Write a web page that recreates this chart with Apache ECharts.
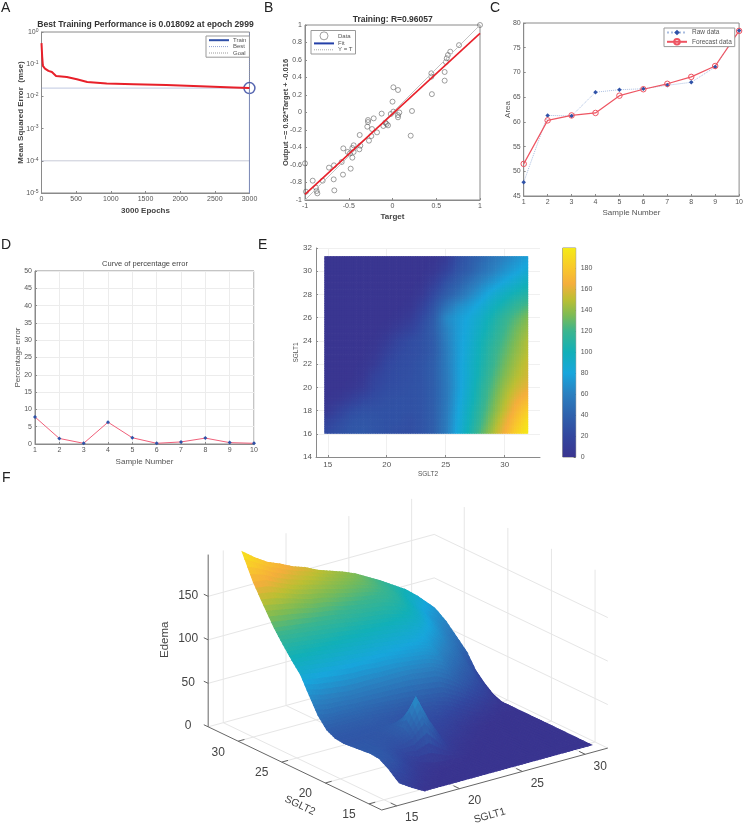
<!DOCTYPE html>
<html><head><meta charset="utf-8">
<style>html,body{margin:0;padding:0;background:#fff}#c{width:746px;height:825px}</style>
<script src="https://cdn.jsdelivr.net/npm/echarts@6/dist/echarts.min.js"></script>
</head><body><div id="c"></div>
<script>
// ---- Panel A
const trainEpochs=[0,5,10,20,50,100,150,210,365,510,660,940,1330,1800,2290,2770,2999];
const trainMse=[0.45,0.43,0.17,0.089,0.073,0.062,0.057,0.043,0.04,0.034,0.028,0.025,0.024,0.0225,0.0208,0.0189,0.018092];
const bestEpoch=2999, bestMse=0.018092, goalMse=0.0001;
// ---- Panel B
const targetVals=[1,.76,.66,.634,.62,.61,.596,.596,.444,.444,.45,.01,.063,0,.01,-.02,.078,.063,.063,.223,.208,-.124,-.215,-.28,-.28,-.288,-.234,-.177,-.105,-.082,-.067,-.051,-.242,-.269,-.375,-.368,-.379,-.444,-.459,-.444,-.562,-.512,-.486,-.459,-.581,-.669,-.726,-.478,-.566,-.672,-.665,-.798,-.912,-1,-.989,-.874,-.867,-.859];
const outputVals=[1,.77,.695,.657,.62,.577,.463,.364,.448,.41,.21,.288,.257,.124,.01,-.017,0,-.03,-.055,.017,-.265,-.013,-.067,-.086,-.109,-.162,-.189,-.227,-.154,-.116,-.131,-.147,-.269,-.322,-.257,-.379,-.421,-.375,-.406,-.451,-.41,-.451,-.467,-.516,-.566,-.604,-.63,-.642,-.71,-.764,-.89,-.779,-.779,-.581,-.905,-.859,-.897,-.924];
const fitEnds=[[-1,-.936],[1,.904]];
const identityEnds=[[-1,-1],[1,1]];
// ---- Panels C, D
const sampleNumbers=[1,2,3,4,5,6,7,8,9,10];
const rawData=[47.8,61.3,61.2,66,66.5,66.7,67.4,68,71.1,78.5];
const forecastData=[51.5,60.3,61.3,61.8,65.3,66.6,67.7,69.1,71.3,78.4];
const percentError=[7.8,1.6,0.2,6.3,1.8,0.2,0.6,1.7,0.4,0.2];
// ---- Panels E, F
const sglt2=[14.7,16,17,18,19,20,21,22,23,24,25,26,27,28,29,30,31,32];
const surfaceSglt2=[14.7,16,17,18,19,20,21,22,23,24,25,26,27,28,29,30.2,31.4,32.7];
const sglt1=[16,17,18,19,20,21,22,23,24,25,26,27,28,29,30,31.3];
const heatRows=[
[22,28,32,33,30,28,26,26,30,38,56,82,104,126,146,166,186,199],
[16,24,30,32,30,28,28,26,30,38,56,80,100,120,140,160,178,194],
[3,16,24,28,28,28,28,28,30,38,55,78,98,116,134,152,170,184],
[1,5,12,20,24,27,28,28,30,38,54,76,94,112,130,147,162,172],
[1,1,3,8,20,24,26,28,30,38,54,74,92,110,126,142,154,162],
[1,1,1,4,16,22,25,27,30,38,55,74,90,106,122,136,148,156],
[1,1,1,2,8,20,24,26,30,38,56,74,90,104,118,132,144,154],
[1,1,1,1,4,14,22,25,28,36,56,74,88,102,116,128,140,150],
[1,1,1,1,2,8,18,24,28,36,58,74,86,100,112,124,136,148],
[1,1,1,1,1,3,9,16,26,38,60,74,84,96,108,120,132,142],
[1,1,1,1,1,1,3,8,22,36,64,74,82,92,104,116,126,136],
[1,1,1,1,1,1,1,3,14,30,50,66,74,84,96,106,116,124],
[1,1,1,1,1,1,1,1,6,22,36,48,62,74,86,96,104,110],
[1,1,1,1,1,1,1,1,2,12,28,38,50,62,72,82,90,98],
[1,1,1,1,1,1,1,1,1,4,16,30,38,50,60,70,78,86],
[1,1,1,1,1,1,1,1,1,1,6,24,34,42,52,60,68,76]];
const surfaceRows=[
[17,28,34,35,34,33,32,33,38,50,68,87,99,112,126,146,167,196],
[8,22,30,33,33,33,32,33,38,47,64,84,98,110,124,143,165,185],
[0,10,20,26,30,32,32,33,38,47,62,82,96,108,122,140,158,176],
[0,2,8,16,26,30,32,33,38,46,60,80,94,106,120,136,152,170],
[0,0,2,8,30,38,36,33,36,45,60,78,92,104,118,132,148,163],
[0,0,0,4,44,70,46,30,34,44,60,78,90,102,116,130,144,158],
[0,0,0,2,24,40,32,27,32,43,60,76,88,100,113,126,140,151],
[0,0,0,1,8,16,20,24,30,42,60,76,86,98,110,123,136,146],
[0,0,0,0,2,6,14,22,28,40,60,74,84,96,108,120,132,141],
[0,0,0,0,0,2,8,16,26,38,58,72,82,94,106,118,128,135],
[0,0,0,0,0,0,3,8,20,36,56,70,80,90,102,114,122,127],
[0,0,0,0,0,0,0,3,12,28,48,64,74,84,96,106,114,119],
[0,0,0,0,0,0,0,0,5,20,36,48,60,72,84,94,102,110],
[0,0,0,0,0,0,0,0,2,10,26,36,48,60,70,80,88,101],
[0,0,0,0,0,0,0,0,0,3,14,26,36,46,56,66,74,89],
[0,0,0,0,0,0,0,0,0,0,0,4,12,22,38,50,62,71]];
const heatXTicks=[15,20,25,30];
const colorbarTicks=[0,20,40,60,80,100,120,140,160,180];
const surfZTicks=[0,50,100,150];
const surfS2Ticks=[15,20,25,30];
const surfS1Ticks=[15,20,25,30];
const panelLetters=['A','B','C','D','E','F'];

// ---- colour map
const cmapStops=[[0,'#3a3590'],[20,'#33479f'],[40,'#2f62ad'],[60,'#2b80c0'],[80,'#18a6dc'],[100,'#12b0b8'],[120,'#3cb58e'],[135,'#7dbb55'],[150,'#bcbf33'],[165,'#f5ae3c'],[180,'#f9c82b'],[199,'#f5ea17']];
const cmapMax=199;
const cmapRgb=cmapStops.map(s=>[s[0],parseInt(s[1].slice(1,3),16),parseInt(s[1].slice(3,5),16),parseInt(s[1].slice(5,7),16)]);
function zColor(v){
  v=Math.max(0,Math.min(cmapMax,v));
  for(let k=1;k<cmapRgb.length;k++){
    if(v<=cmapRgb[k][0]){
      const a=cmapRgb[k-1],b=cmapRgb[k],t=(v-a[0])/(b[0]-a[0]);
      return 'rgb('+[1,2,3].map(c=>Math.round(a[c]+(b[c]-a[c])*t)).join(',')+')';
    }
  }
  return cmapStops[cmapStops.length-1][1];
}

// ---- shared styling
const GREY='#555', AX='#8a8a8a';
const tickFont=7;
function axisBase(extra){
  return Object.assign({
    type:'value',
    axisLine:{show:true,onZero:false,lineStyle:{color:AX,width:1}},
    axisTick:{show:true,inside:true,length:2,lineStyle:{color:AX}},
    axisLabel:{color:GREY,fontSize:tickFont,fontFamily:'Liberation Sans',margin:3,formatter:v=>String(v)},
    splitLine:{show:false},
    nameLocation:'middle',
    nameMoveOverlap:false,
    nameTextStyle:{color:GREY,fontSize:8,fontFamily:'Liberation Sans'}
  },extra||{});
}
const boldName={color:'#444',fontSize:8,fontWeight:'bold',fontFamily:'Liberation Sans'};
const noMarker={opacity:0};
function legendBase(extra){
  return Object.assign({
    orient:'vertical',itemWidth:20,itemHeight:8,itemGap:0,padding:[1,3,1,2],
    backgroundColor:'#fff',borderColor:'#999',borderWidth:1,
    textStyle:{color:GREY,fontSize:6,fontFamily:'Liberation Sans',padding:[0,0,0,-1]},
    selectedMode:false
  },extra);
}
function gridOf(l,t,w,h,border){
  return {left:l,top:t,width:w,height:h,containLabel:false,show:!!border,borderColor:AX,borderWidth:1,backgroundColor:'transparent'};
}

// ---- 3D projection for panel F: floor plane and height map to the page
const view3d={fx:381.7,fy:810,s2o:13.54,s1o:13.8,s2dx:-8.72,s2dy:-4.18,s1dx:12.56,s1dy:-3.44,zdy:-0.87,s2max:33.44,s1max:31.8,ztop:198};
function project(s2,s1,z){
  const a=s2-view3d.s2o,b=s1-view3d.s1o;
  return [view3d.fx+a*view3d.s2dx+b*view3d.s1dx, view3d.fy+a*view3d.s2dy+b*view3d.s1dy+z*view3d.zdy];
}
function polyline3d(api,pts,stroke,width){
  return {type:'polyline',shape:{points:pts.map(p=>api.coord(project(p[0],p[1],p[2])))},style:{stroke:stroke,lineWidth:width,fill:null},silent:true};
}
const SUB=4;
function renderSurfaceCell(params,api){
  const i=api.value(2),j=api.value(3),children=[];
  const x0=surfaceSglt2[i],x1=surfaceSglt2[i+1],y0=sglt1[j],y1=sglt1[j+1];
  const z00=surfaceRows[j][i],z10=surfaceRows[j][i+1],z01=surfaceRows[j+1][i],z11=surfaceRows[j+1][i+1];
  const val=(u,v)=>(1-u)*(1-v)*z00+u*(1-v)*z10+(1-u)*v*z01+u*v*z11;
  const pt=(u,v)=>api.coord(project(x0+(x1-x0)*u,y0+(y1-y0)*v,val(u,v)));
  for(let a=SUB-1;a>=0;a--)for(let b=SUB-1;b>=0;b--){
    const u0=a/SUB,u1=(a+1)/SUB,v0=b/SUB,v1=(b+1)/SUB;
    const col=zColor(val((u0+u1)/2,(v0+v1)/2));
    children.push({type:'polygon',shape:{points:[pt(u0,v0),pt(u1,v0),pt(u1,v1),pt(u0,v1)]},style:{fill:col,stroke:col,lineWidth:1.1},silent:true});
  }
  return {type:'group',children};
}
function renderHeatCell(params,api){
  const i=api.value(2),j=api.value(3),children=[];
  const x0=sglt2[i],x1=sglt2[i+1],y0=sglt1[j],y1=sglt1[j+1];
  const z00=heatRows[j][i],z10=heatRows[j][i+1],z01=heatRows[j+1][i],z11=heatRows[j+1][i+1];
  const val=(u,v)=>(1-u)*(1-v)*z00+u*(1-v)*z10+(1-u)*v*z01+u*v*z11;
  const n=5,lastI=i===sglt2.length-2,lastJ=j===sglt1.length-2;
  for(let a=0;a<n;a++)for(let b=0;b<n;b++){
    const u0=a/n,u1=(a+1)/n,v0=b/n,v1=(b+1)/n;
    const p0=api.coord([x0+(x1-x0)*u0,y0+(y1-y0)*v0]),p1=api.coord([x0+(x1-x0)*u1,y0+(y1-y0)*v1]);
    const col=zColor(val((u0+u1)/2,(v0+v1)/2));
    // each block overlaps its neighbour slightly so no antialiased seam shows
    const w=p1[0]-p0[0]+((lastI&&a===n-1)?0:0.7), extraTop=(lastJ&&b===n-1)?0:0.7;
    children.push({type:'rect',shape:{x:p0[0],y:p1[1]-extraTop,width:w,height:p0[1]-p1[1]+extraTop},style:{fill:col},silent:true});
  }
  return {type:'group',children};
}
function renderWalls(params,api){
  const v=view3d,c=[],col='#e6e6e6';
  surfZTicks.forEach(z=>{
    c.push(polyline3d(api,[[v.s2o,v.s1max,z],[v.s2max,v.s1max,z],[v.s2max,v.s1o,z]],col,1));
  });
  surfS1Ticks.forEach(s=>{
    c.push(polyline3d(api,[[v.s2o,s,0],[v.s2max,s,0],[v.s2max,s,v.ztop]],col,1));
  });
  surfS2Ticks.forEach(s=>{
    c.push(polyline3d(api,[[s,v.s1o,0],[s,v.s1max,0],[s,v.s1max,v.ztop]],col,1));
  });
  return {type:'group',children:c};
}
function label3d(api,pos,dx,dy,text,size,rot){
  const p=api.coord(pos);
  return {type:'text',x:p[0]+dx,y:p[1]+dy,rotation:rot||0,silent:true,
    style:{x:0,y:0,text:text,fill:'#444',font:size+'px "Liberation Sans"',align:'center',verticalAlign:'middle'}};
}
function renderAxes3d(params,api){
  const v=view3d,c=[],dark='#666';
  c.push(polyline3d(api,[[v.s2max,v.s1o,v.ztop],[v.s2max,v.s1o,0],[v.s2o,v.s1o,0],[v.s2o,v.s1max,0]],dark,1));
  surfZTicks.forEach(z=>{
    c.push(polyline3d(api,[[v.s2max,v.s1o,z],[v.s2max+0.5,v.s1o,z]],dark,1));
    c.push(label3d(api,project(v.s2max,v.s1o,z),-20,-1,String(z),12));
  });
  surfS2Ticks.forEach(s=>{
    c.push(polyline3d(api,[[s,v.s1o,0],[s,v.s1o+0.5,0]],dark,1));
    c.push(label3d(api,project(s,v.s1o,0),-20,11,String(s),12));
  });
  surfS1Ticks.forEach(s=>{
    c.push(polyline3d(api,[[v.s2o,s,0],[v.s2o+0.7,s,0]],dark,1));
    c.push(label3d(api,project(v.s2o,s,0),15,12,String(s),12));
  });
  c.push(label3d(api,project(v.s2max,v.s1o,100),-43,0,'Edema',11.5,Math.PI/2));
  c.push(label3d(api,project(22,v.s1o,0),-8,31,'SGLT2',10.5,-0.44));
  c.push(label3d(api,project(v.s2o,22,0),5,34,'SGLT1',10.5,0.28));
  return {type:'group',children:c};
}

// ---- data for custom series
const heatCells=[],surfaceCells=[];
for(let j=0;j<sglt1.length-1;j++)for(let i=0;i<sglt2.length-1;i++)heatCells.push([sglt2[i],sglt1[j],i,j]);
for(let i=sglt2.length-2;i>=0;i--)for(let j=sglt1.length-2;j>=0;j--){
  const c=project(surfaceSglt2[i],sglt1[j],0);surfaceCells.push([c[0],c[1],i,j]);
}

const logLabel=v=>{const e=Math.round(Math.log10(v));return '{a|10}{s|'+e+'}';};
const option={
  animation:false,
  backgroundColor:'#fff',
  title:[
    {text:'Best Training Performance is 0.018092 at epoch 2999',left:145.5,top:20.5,textAlign:'center',padding:0,textStyle:{fontSize:8.6,fontWeight:'bold',color:'#333',fontFamily:'Liberation Sans'}},
    {text:'Training: R=0.96057',left:392.7,top:15.5,textAlign:'center',padding:0,textStyle:{fontSize:8.5,fontWeight:'bold',color:'#333',fontFamily:'Liberation Sans'}},
    {text:'Curve of percentage error',left:145,top:260,textAlign:'center',padding:0,textStyle:{fontSize:7.5,fontWeight:'normal',color:'#444',fontFamily:'Liberation Sans'}}
  ],
  graphic:panelLetters.map((t,k)=>({type:'text',x:[1,264,490,1,258,2][k],y:[1,1,1,238,238,471][k],silent:true,
    style:{text:t,fill:'#222',font:'14px "Liberation Sans"'}})),
  legend:[
    legendBase({left:206,top:36,data:[
      {name:'Train',lineStyle:{color:'#2f4fa8',width:2},itemStyle:noMarker},
      {name:'Best',lineStyle:{color:'#8f9fd0',width:1,type:'dotted'},itemStyle:noMarker},
      {name:'Goal',lineStyle:{color:'#999',width:1,type:'dotted'},itemStyle:noMarker}]}),
    legendBase({left:311,top:30.5,data:[
      {name:'Data',icon:'circle',itemStyle:{color:'transparent',borderColor:'#555',borderWidth:0.7}},
      {name:'Fit',lineStyle:{color:'#2440a8',width:2},itemStyle:noMarker},
      {name:'Y = T',lineStyle:{color:'#aaa',width:1,type:'dotted'},itemStyle:noMarker}]}),
    legendBase({left:664,top:28,itemHeight:7,itemGap:2,padding:[1,3,1,2],textStyle:{color:GREY,fontSize:6.5,fontFamily:'Liberation Sans'},data:['Raw data','Forecast data']})
  ],
  grid:[
    gridOf(41.5,32,208,161,true),      // 0 A
    gridOf(305,25,175,175,true),       // 1 B
    gridOf(523.7,23,218.3,173,true),   // 2 C
    gridOf(35,271,219,173,true),       // 3 D
    gridOf(316,248,224,209,false),     // 4 E
    gridOf(562.7,248,13,209,true),     // 5 colorbar
    gridOf(0,0,746,825,false)          // 6 F page plane
  ],
  xAxis:[
    axisBase({gridIndex:0,min:0,max:3000,interval:500,name:'3000 Epochs',nameGap:14,nameTextStyle:boldName}),
    axisBase({gridIndex:1,min:-1,max:1,interval:0.5,name:'Target',nameGap:13,nameTextStyle:boldName}),
    axisBase({gridIndex:2,min:1,max:10,interval:1,name:'Sample Number',nameGap:13}),
    axisBase({gridIndex:3,min:1,max:10,interval:1,name:'Sample Number',nameGap:14,splitLine:{show:true,lineStyle:{color:'#ececec',width:1}}}),
    axisBase({gridIndex:4,min:14,max:33,name:'SGLT2',nameGap:14,nameTextStyle:{color:GREY,fontSize:6.5},
      axisTick:{show:true,inside:true,length:2,customValues:heatXTicks,lineStyle:{color:AX}},
      axisLabel:{color:GREY,fontSize:8,margin:4,customValues:heatXTicks,fontFamily:'Liberation Sans'},
      splitLine:{show:true,lineStyle:{color:'#f0f0f0'}}}),
    {type:'category',gridIndex:5,data:['scale'],show:false},
    {type:'value',gridIndex:6,min:0,max:746,show:false}
  ],
  yAxis:[
    axisBase({gridIndex:0,type:'log',logBase:10,min:0.00001,max:1,name:'Mean Squared Error  (mse)',nameGap:17,nameTextStyle:boldName,
      axisLabel:{formatter:logLabel,margin:3,rich:{a:{color:GREY,fontSize:7,fontFamily:'Liberation Sans'},s:{color:GREY,fontSize:5,verticalAlign:'top',fontFamily:'Liberation Sans',padding:[0,0,3,0]}}},
      minorTick:{show:false}}),
    axisBase({gridIndex:1,min:-1,max:1,interval:0.2,name:'Output ~= 0.92*Target + -0.016',nameGap:15,nameTextStyle:Object.assign({},boldName,{fontSize:7.5})}),
    axisBase({gridIndex:2,min:45,max:80,interval:5,name:'Area',nameGap:12}),
    axisBase({gridIndex:3,min:0,max:50,interval:5,name:'Percentage error',nameGap:13,splitLine:{show:true,lineStyle:{color:'#ececec',width:1}}}),
    axisBase({gridIndex:4,min:14,max:32,interval:2,name:'SGLT1',nameGap:16,nameTextStyle:{color:GREY,fontSize:6.5},
      axisLabel:{color:GREY,fontSize:8,margin:4,fontFamily:'Liberation Sans'},
      splitLine:{show:true,lineStyle:{color:'#f0f0f0'}}}),
    {type:'value',gridIndex:5,position:'right',min:0,max:cmapMax,
      axisLine:{show:false},
      axisTick:{show:true,inside:true,length:2,customValues:colorbarTicks,lineStyle:{color:'#666'}},
      axisLabel:{color:GREY,fontSize:7,margin:5,customValues:colorbarTicks,fontFamily:'Liberation Sans'},
      splitLine:{show:false}},
    {type:'value',gridIndex:6,min:0,max:825,inverse:true,show:false}
  ],
  series:[
    // A
    {name:'Goal',type:'line',xAxisIndex:0,yAxisIndex:0,symbol:'none',silent:true,data:[[0,goalMse],[3000,goalMse]],lineStyle:{color:'#8f94b0',width:1,type:'dotted'}},
    {name:'Best',type:'line',xAxisIndex:0,yAxisIndex:0,symbol:'none',silent:true,data:[[0,bestMse],[bestEpoch,bestMse],[bestEpoch,0.00001],[bestEpoch,1]],lineStyle:{color:'#7f8fc4',width:1,type:'dotted'}},
    {name:'Train',type:'line',xAxisIndex:0,yAxisIndex:0,symbol:'none',silent:true,data:trainEpochs.map((e,i)=>[e,trainMse[i]]),lineStyle:{color:'#e8202a',width:2}},
    {name:'Best point',type:'scatter',xAxisIndex:0,yAxisIndex:0,silent:true,symbol:'circle',symbolSize:11,data:[[bestEpoch,bestMse]],itemStyle:{color:'transparent',borderColor:'#2a3f9c',borderWidth:1.5},clip:false},
    // B
    {name:'Y = T',type:'line',xAxisIndex:1,yAxisIndex:1,symbol:'none',silent:true,data:identityEnds,lineStyle:{color:'#c4c4c4',width:1}},
    {name:'Fit',type:'line',xAxisIndex:1,yAxisIndex:1,symbol:'none',silent:true,data:fitEnds,lineStyle:{color:'#e8202a',width:1.6}},
    {name:'Data',type:'scatter',xAxisIndex:1,yAxisIndex:1,silent:true,symbol:'circle',symbolSize:5,clip:false,data:targetVals.map((t,i)=>[t,outputVals[i]]),itemStyle:{color:'transparent',borderColor:'#555',borderWidth:0.7}},
    // C
    {name:'Raw data',type:'line',xAxisIndex:2,yAxisIndex:2,silent:true,symbol:'diamond',symbolSize:4.5,clip:false,data:sampleNumbers.map((s,i)=>[s,rawData[i]]),lineStyle:{color:'#a9bde0',width:1,type:'dotted'},itemStyle:{color:'#2f52a8'}},
    {name:'Forecast data',type:'line',xAxisIndex:2,yAxisIndex:2,silent:true,symbol:'circle',symbolSize:5.5,showSymbol:true,clip:false,data:sampleNumbers.map((s,i)=>[s,forecastData[i]]),lineStyle:{color:'#ee5562',width:1.2},itemStyle:{color:'transparent',borderColor:'#ee5562',borderWidth:1}},
    // D
    {name:'Percentage error',type:'line',xAxisIndex:3,yAxisIndex:3,silent:true,symbol:'diamond',symbolSize:4,clip:false,data:sampleNumbers.map((s,i)=>[s,percentError[i]]),lineStyle:{color:'#f0607a',width:1},itemStyle:{color:'#2f52a8'}},
    // E
    {name:'Edema map',type:'custom',coordinateSystem:'cartesian2d',xAxisIndex:4,yAxisIndex:4,silent:true,clip:false,encode:{x:0,y:1},data:heatCells,renderItem:renderHeatCell},
    // colour bar
    {name:'Colour scale',type:'bar',xAxisIndex:5,yAxisIndex:5,silent:true,barWidth:'100%',data:[cmapMax],
      itemStyle:{color:new echarts.graphic.LinearGradient(0,1,0,0,cmapStops.map(s=>({offset:s[0]/cmapMax,color:s[1]})))}},
    // F
    {name:'Walls',type:'custom',coordinateSystem:'cartesian2d',xAxisIndex:6,yAxisIndex:6,silent:true,clip:false,encode:{x:0,y:1},data:[[0,0]],renderItem:renderWalls,z:1},
    {name:'Edema surface',type:'custom',coordinateSystem:'cartesian2d',xAxisIndex:6,yAxisIndex:6,silent:true,clip:false,encode:{x:0,y:1},data:surfaceCells,renderItem:renderSurfaceCell,z:2},
    {name:'Axes',type:'custom',coordinateSystem:'cartesian2d',xAxisIndex:6,yAxisIndex:6,silent:true,clip:false,encode:{x:0,y:1},data:[[0,0]],renderItem:renderAxes3d,z:3}
  ]
};
const chart=echarts.init(document.getElementById('c'),null,{width:746,height:825,renderer:'canvas'});
chart.setOption(option);
</script></body></html>
